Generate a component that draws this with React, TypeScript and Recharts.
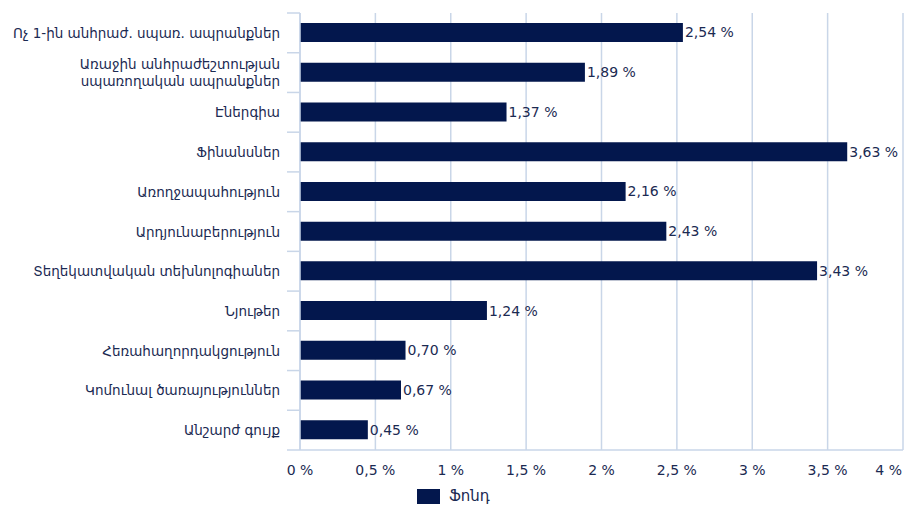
import React from "react";
import { BarChart, Bar, XAxis, YAxis, CartesianGrid, LabelList, Legend } from "recharts";

const categories = [
  "Ոչ 1-ին անհրաժ. սպառ. ապրանքներ",
  "Առաջին անհրաժեշտության\nսպառողական ապրանքներ",
  "Էներգիա",
  "Ֆինանսներ",
  "Առողջապահություն",
  "Արդյունաբերություն",
  "Տեղեկատվական տեխնոլոգիաներ",
  "Նյութեր",
  "Հեռահաղորդակցություն",
  "Կոմունալ ծառայություններ",
  "Անշարժ գույք",
];
const fundValues = [2.54, 1.89, 1.37, 3.63, 2.16, 2.43, 3.43, 1.24, 0.7, 0.67, 0.45];
const xTicks = [0, 0.5, 1, 1.5, 2, 2.5, 3, 3.5, 4];
const seriesName = "Ֆոնդ";

const data = categories.map((c, i) => ({ name: c, value: fundValues[i] }));

const TEXT = "#1b2a52";
const GRID = "#c9d6e8";
const BAR = "#03174d";
const FONT = "'DejaVu Sans', Verdana, sans-serif";

const fmtNum = (v: number) => String(v).replace(".", ",") + " %";
const fmtVal = (v: number) => v.toFixed(2).replace(".", ",") + " %";

const W = 919;
const H = 512;
const TOP = 13;
const PLOT_BOTTOM = 450;
const band = (PLOT_BOTTOM - TOP) / categories.length;

const YTick = (props: any) => {
  const { x, y, payload, index } = props;
  const lines = String(payload.value).split("\n");
  const lh = 17;
  const startY = y - ((lines.length - 1) * lh) / 2;
  return (
    <g>
      <line x1={x - 5} x2={x + 8} y1={y - band / 2} y2={y - band / 2} stroke={GRID} strokeWidth={1.5} />
      {index === categories.length - 1 && (
        <line x1={x - 5} x2={x + 8} y1={y + band / 2} y2={y + band / 2} stroke={GRID} strokeWidth={1.5} />
      )}
      <text x={x - 12} y={startY} textAnchor="end" dominantBaseline="central" fill={TEXT} fontSize={13.5} fontFamily={FONT}>
        {lines.map((l, i) => (
          <tspan key={i} x={x - 12} dy={i === 0 ? 0 : lh}>
            {l}
          </tspan>
        ))}
      </text>
    </g>
  );
};

const XTick = (props: any) => {
  const { x, y, payload, index } = props;
  const last = index === xTicks.length - 1;
  return (
    <text
      x={last ? x - 1 : x}
      y={y}
      dy={6}
      textAnchor={last ? "end" : "middle"}
      dominantBaseline="central"
      fill={TEXT}
      fontSize={14}
      fontFamily={FONT}
    >
      {fmtNum(payload.value)}
    </text>
  );
};

const LegendContent = () => (
  <div style={{ display: "flex", alignItems: "center", marginLeft: 417, marginTop: 7, fontFamily: FONT, fontSize: 15, color: TEXT }}>
    <span style={{ display: "inline-block", width: 23, height: 15, background: BAR, marginRight: 9 }} />
    <span>{seriesName}</span>
  </div>
);

export default function App() {
  return (
    <div style={{ position: "absolute", left: 0, top: 0, width: W, height: H, background: "#fff" }}>
      <BarChart
        width={W}
        height={H}
        data={data}
        layout="vertical"
        margin={{ top: TOP, right: 16, left: 0, bottom: 0 }}
        barSize={19}
      >
        <CartesianGrid horizontal={false} stroke={GRID} strokeWidth={1.5} />
        <XAxis
          type="number"
          domain={[0, 4]}
          ticks={xTicks}
          axisLine={{ stroke: GRID, strokeWidth: 1.5 }}
          tickLine={false}
          tick={<XTick />}
          tickMargin={8}
          height={30}
          interval={0}
        />
        <YAxis
          type="category"
          dataKey="name"
          width={300}
          axisLine={{ stroke: GRID, strokeWidth: 1.5 }}
          tickLine={false}
          tick={<YTick />}
          interval={0}
        />
        <Legend verticalAlign="bottom" height={32} content={<LegendContent />} />
        <Bar dataKey="value" name={seriesName} fill={BAR} isAnimationActive={false}>
          <LabelList dataKey="value" position="right" offset={2} formatter={(v: any) => fmtVal(Number(v))} fill={TEXT} fontSize={14} fontFamily={FONT} />
        </Bar>
      </BarChart>
    </div>
  );
}
